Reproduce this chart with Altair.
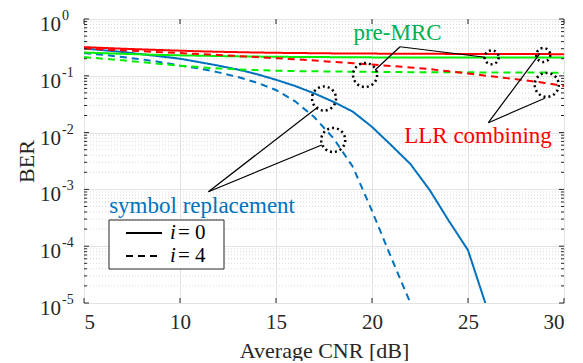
import altair as alt
import pandas as pd

# ---------------- data ----------------
x_sr0 = list(range(5, 27))
ber_sr0 = [0.302, 0.282, 0.263, 0.240, 0.219, 0.200, 0.174, 0.151, 0.129, 0.107,
           0.0851, 0.0661, 0.0490, 0.0347, 0.0234, 0.0126, 6.0e-3, 2.8e-3, 9.8e-4,
           2.8e-4, 8.5e-5, 7.9e-6]
x_sr4 = list(range(5, 23))
ber_sr4 = [0.251, 0.234, 0.214, 0.195, 0.174, 0.151, 0.135, 0.115, 0.0955, 0.0759,
           0.0562, 0.0355, 0.0186, 7.9e-3, 2.5e-3, 4.2e-4, 6.3e-5, 1.0e-5]
x_full = list(range(5, 31))
ber_llr0 = [0.320, 0.310, 0.300, 0.292, 0.284, 0.277, 0.270, 0.265, 0.261, 0.257,
            0.254, 0.252, 0.250, 0.248, 0.247, 0.246, 0.245, 0.244, 0.244, 0.243,
            0.243, 0.242, 0.242, 0.241, 0.241, 0.240]
ber_llr4 = [0.302, 0.291, 0.281, 0.271, 0.261, 0.251, 0.242, 0.233, 0.223, 0.214,
            0.204, 0.195, 0.186, 0.176, 0.167, 0.158, 0.149, 0.140, 0.131, 0.120,
            0.110, 0.100, 0.091, 0.083, 0.075, 0.066]
ber_mrc0 = [0.257, 0.250, 0.244, 0.238, 0.233, 0.229, 0.226, 0.223, 0.220, 0.218,
            0.216, 0.215, 0.214, 0.213, 0.212, 0.211, 0.211, 0.210, 0.210, 0.210,
            0.209, 0.209, 0.209, 0.209, 0.209, 0.209]
ber_mrc4 = [0.214, 0.200, 0.187, 0.174, 0.162, 0.151, 0.142, 0.135, 0.130, 0.126,
            0.123, 0.121, 0.120, 0.119, 0.118, 0.117, 0.1165, 0.116, 0.116, 0.1155,
            0.115, 0.1148, 0.1145, 0.114, 0.1138, 0.1135]

x_ticks = [5, 10, 15, 20, 25, 30]
y_decades = [1e-5, 1e-4, 1e-3, 1e-2, 1e-1, 1e0]
y_bases = ["10", "10", "10", "10", "10", "10"]
y_exponents = ["-5", "-4", "-3", "-2", "-1", "0"]
y_minor = [m * d for d in [1e-5, 1e-4, 1e-3, 1e-2, 1e-1] for m in range(2, 10)]

# annotations
circ_big_x = [19.64, 29.1, 17.5, 17.98]
circ_big_y = [0.1033, 0.0692, 0.0398, 7.41e-3]
circ_small_x = [26.23, 28.92]
circ_small_y = [0.2113, 0.2323]
ann_x1 = [21.46, 21.46, 26.06, 26.06, 11.48, 11.48]
ann_y1 = [0.325, 0.325, 0.01493, 0.01493, 9.1e-4, 9.1e-4]
ann_x2 = [20.16, 25.89, 28.75, 29.0, 17.2, 17.38]
ann_y2 = [0.1265, 0.212, 0.249, 0.0402, 0.0286, 6.05e-3]
lab_text = ["pre-MRC", "LLR combining", "symbol replacement"]
lab_x = [21.33, 25.52, 11.15]
lab_y = [0.427, 6.46e-3, 3.8e-4]
lab_col = ["#00B050", "#FF0000", "#0072BD"]

legend_labels = ["= 0", "= 4"]

FONT = "Times New Roman, Liberation Serif, serif"

rows = []
for name, xs_, ys_, st in [
    ("sr0", x_sr0, ber_sr0, "i0"), ("sr4", x_sr4, ber_sr4, "i4"),
    ("mrc0", x_full, ber_mrc0, "i0"), ("mrc4", x_full, ber_mrc4, "i4"),
    ("llr0", x_full, ber_llr0, "i0"), ("llr4", x_full, ber_llr4, "i4"),
]:
    fam = name[:-1]
    for xv, yv in zip(xs_, ys_):
        rows.append({"x": xv, "ber": yv, "series": name, "fam": fam, "style": st})
df = pd.DataFrame(rows)

xs = alt.Scale(domain=[5, 30], nice=False, zero=False)
ys = alt.Scale(type="log", domain=[1e-5, 1], nice=False)

minor_df = pd.DataFrame({"y": y_minor})
dec_df = pd.DataFrame({"y": y_decades, "e": y_exponents, "b": y_bases})
xt_df = pd.DataFrame({"x": x_ticks})

base_axes = alt.Chart(df).mark_line(opacity=0).encode(
    x=alt.X("x:Q", scale=xs,
            axis=alt.Axis(values=x_ticks, title="Average CNR [dB]", grid=True,
                          gridColor="#E3E3E3", ticks=False, domain=False,
                          labelFont=FONT, labelFontSize=21, labelColor="#262626",
                          labelPadding=8, titleFont=FONT, titleFontSize=22,
                          titleFontWeight="normal", titleColor="#262626",
                          titleBaseline="alphabetic", titleY=54, titleX=240)),
    y=alt.Y("ber:Q", scale=ys,
            axis=alt.Axis(values=y_decades, labels=False, title="BER", grid=True,
                          gridColor="#E3E3E3", ticks=False, domain=False,
                          titleFont=FONT, titleFontSize=22, titleFontWeight="normal",
                          titleColor="#262626", titleAngle=-90, titleBaseline="alphabetic",
                          titleX=-51, titleY=142, titleAlign="center")),
)

minor_grid = alt.Chart(minor_df).mark_rule(color="#D8D8D8", strokeDash=[1, 2], strokeWidth=1).encode(
    y=alt.Y("y:Q", scale=ys), x=alt.value(0), x2=alt.value(480))

bases = alt.Chart(dec_df).mark_text(font=FONT, fontSize=21, align="right", baseline="middle",
                                    color="#262626", dy=6).encode(
    y=alt.Y("y:Q", scale=ys), x=alt.value(-23), text="b:N")
exps = alt.Chart(dec_df).mark_text(font=FONT, fontSize=14, align="left", baseline="middle",
                                   color="#262626", dy=-3).encode(
    y=alt.Y("y:Q", scale=ys), x=alt.value(-22), text="e:N")

lines = alt.Chart(df).mark_line(strokeWidth=2, clip=True).encode(
    x=alt.X("x:Q", scale=xs),
    y=alt.Y("ber:Q", scale=ys),
    color=alt.Color("fam:N", scale=alt.Scale(domain=["sr", "mrc", "llr"],
                                             range=["#0072BD", "#00EE00", "#FF0000"]), legend=None),
    strokeDash=alt.StrokeDash("style:N", scale=alt.Scale(domain=["i0", "i4"], range=[[1, 0], [7, 5]]),
                              legend=None),
    detail="series:N",
    order=alt.Order("x:Q"),
)

yl_major = alt.Chart(dec_df).mark_rule(color="#262626").encode(y=alt.Y("y:Q", scale=ys), x=alt.value(0), x2=alt.value(5))
yr_major = alt.Chart(dec_df).mark_rule(color="#262626").encode(y=alt.Y("y:Q", scale=ys), x=alt.value(475), x2=alt.value(480))
yl_minor = alt.Chart(minor_df).mark_rule(color="#262626").encode(y=alt.Y("y:Q", scale=ys), x=alt.value(0), x2=alt.value(3))
yr_minor = alt.Chart(minor_df).mark_rule(color="#262626").encode(y=alt.Y("y:Q", scale=ys), x=alt.value(477), x2=alt.value(480))
xb = alt.Chart(xt_df).mark_rule(color="#262626").encode(x=alt.X("x:Q", scale=xs), y=alt.value(279), y2=alt.value(284))
xtp = alt.Chart(xt_df).mark_rule(color="#262626").encode(x=alt.X("x:Q", scale=xs), y=alt.value(0), y2=alt.value(5))

cb = alt.Chart(pd.DataFrame({"x": circ_big_x, "y": circ_big_y})).mark_point(
    shape="circle", filled=False, color="black", strokeWidth=2.5, strokeDash=[2, 3], size=576, opacity=1).encode(
    x=alt.X("x:Q", scale=xs), y=alt.Y("y:Q", scale=ys))
cs = alt.Chart(pd.DataFrame({"x": circ_small_x, "y": circ_small_y})).mark_point(
    shape="circle", filled=False, color="black", strokeWidth=2.5, strokeDash=[2, 3], size=196, opacity=1).encode(
    x=alt.X("x:Q", scale=xs), y=alt.Y("y:Q", scale=ys))
arrows = alt.Chart(pd.DataFrame({"x": ann_x1, "y": ann_y1, "x2": ann_x2, "y2": ann_y2})).mark_rule(
    color="black", strokeWidth=1.2).encode(
    x=alt.X("x:Q", scale=xs), y=alt.Y("y:Q", scale=ys), x2="x2:Q", y2="y2:Q")
labels = alt.Chart(pd.DataFrame({"t": lab_text, "x": lab_x, "y": lab_y, "c": lab_col})).mark_text(
    font=FONT, fontSize=23, align="center", baseline="alphabetic").encode(
    x=alt.X("x:Q", scale=xs), y=alt.Y("y:Q", scale=ys), text="t:N",
    color=alt.Color("c:N", scale=None))

leg_box = alt.Chart(pd.DataFrame({"a": [0]})).mark_rect(fill="white", stroke="#262626", strokeWidth=1).encode(
    x=alt.value(25), x2=alt.value(140), y=alt.value(201), y2=alt.value(250))
leg_l0 = alt.Chart(pd.DataFrame({"a": [0]})).mark_rule(color="black", strokeWidth=2).encode(
    x=alt.value(42), x2=alt.value(78), y=alt.value(214))
leg_l4 = alt.Chart(pd.DataFrame({"a": [0]})).mark_rule(color="black", strokeWidth=2, strokeDash=[7, 5]).encode(
    x=alt.value(42), x2=alt.value(78), y=alt.value(237))
leg_i = alt.Chart(pd.DataFrame({"t": ["i", "i"], "yy": [214, 237]})).mark_text(
    font=FONT, fontSize=21, fontStyle="italic", align="left", baseline="middle", color="black").encode(
    x=alt.value(86), y=alt.Y("yy:Q", scale=None), text="t:N")
leg_t = alt.Chart(pd.DataFrame({"t": legend_labels, "yy": [214, 237]})).mark_text(
    font=FONT, fontSize=21, align="left", baseline="middle", color="black").encode(
    x=alt.value(94), y=alt.Y("yy:Q", scale=None), text="t:N")

chart = alt.layer(
    base_axes, minor_grid, bases, exps, lines,
    yl_major, yr_major, yl_minor, yr_minor, xb, xtp,
    cb, cs, arrows, labels,
    leg_box, leg_l0, leg_l4, leg_i, leg_t,
).properties(
    width=480, height=284,
    padding={"left": 76, "top": 11, "right": 8, "bottom": 58},
    autosize="none",
).configure_view(stroke="#262626", strokeWidth=1).configure(background="white")

chart.save("out.html", embed_options={"renderer": "svg", "actions": False})
